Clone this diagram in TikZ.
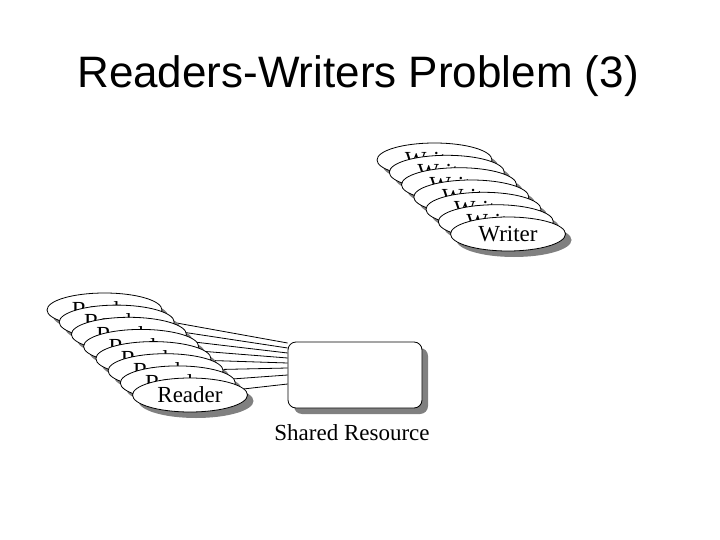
\documentclass[tikz,border=0pt]{standalone}
\usepackage{fontspec}
\setmainfont{Liberation Serif}
\newfontfamily\titlefont{Liberation Sans}
\usepackage{tikz}
\usetikzlibrary{shapes.geometric,shadows,backgrounds}

\begin{document}
\begin{tikzpicture}[x=1pt, y=-1pt,
  proc/.style={ellipse, draw=black, line width=0.8pt, fill=white, inner sep=0pt,
    minimum width=115pt, minimum height=34pt, font=\fontsize{23}{27}\selectfont,
    drop shadow={shadow xshift=6pt, shadow yshift=-6pt, fill=gray, opacity=1}},
  link/.style={black, line width=0.8pt}]
  \useasboundingbox (0,0) rectangle (720,540);
  \node[font=\titlefont\fontsize{44}{50}\selectfont, anchor=base] (title) at (358,88) {Readers-Writers Problem (3)};
  \node[proc] (w1) at (434.5,160) {Writer};
  \node[proc] (w2) at (446.8,172.3) {Writer};
  \node[proc] (w3) at (459,184.7) {Writer};
  \node[proc] (w4) at (471.3,197) {Writer};
  \node[proc] (w5) at (483.5,209.3) {Writer};
  \node[proc] (w6) at (495.8,221.7) {Writer};
  \node[proc] (w7) at (508,234) {Writer};
  \node[proc] (r1) at (104.5,310) {Reader};
  \node[proc] (r2) at (116.7,322.1) {Reader};
  \node[proc] (r3) at (128.9,334.3) {Reader};
  \node[proc] (r4) at (141.1,346.4) {Reader};
  \node[proc] (r5) at (153.4,358.6) {Reader};
  \node[proc] (r6) at (165.6,370.7) {Reader};
  \node[proc] (r7) at (177.8,382.9) {Reader};
  \node[proc] (r8) at (190,395) {Reader};
  \node[draw=black, line width=0.8pt, fill=white, rounded corners=8pt, minimum width=134pt, minimum height=66pt,
    drop shadow={shadow xshift=6pt, shadow yshift=-6pt, fill=gray, opacity=1}] (res) at (355,375) {};
  \node[font=\fontsize{23}{27}\selectfont, anchor=base] (reslabel) at (352,440) {Shared Resource};
  \begin{scope}[on background layer]
    \draw[link] (r1) -- ([yshift=32pt]res.west);
    \draw[link] (r2) -- ([yshift=27pt]res.west);
    \draw[link] (r3) -- ([yshift=22pt]res.west);
    \draw[link] (r4) -- ([yshift=17pt]res.west);
    \draw[link] (r5) -- ([yshift=12pt]res.west);
    \draw[link] (r6) -- ([yshift=7pt]res.west);
    \draw[link] (r7) -- (res.west);
    \draw[link] (r8) -- ([yshift=-9pt]res.west);
  \end{scope}
\end{tikzpicture}
\end{document}
